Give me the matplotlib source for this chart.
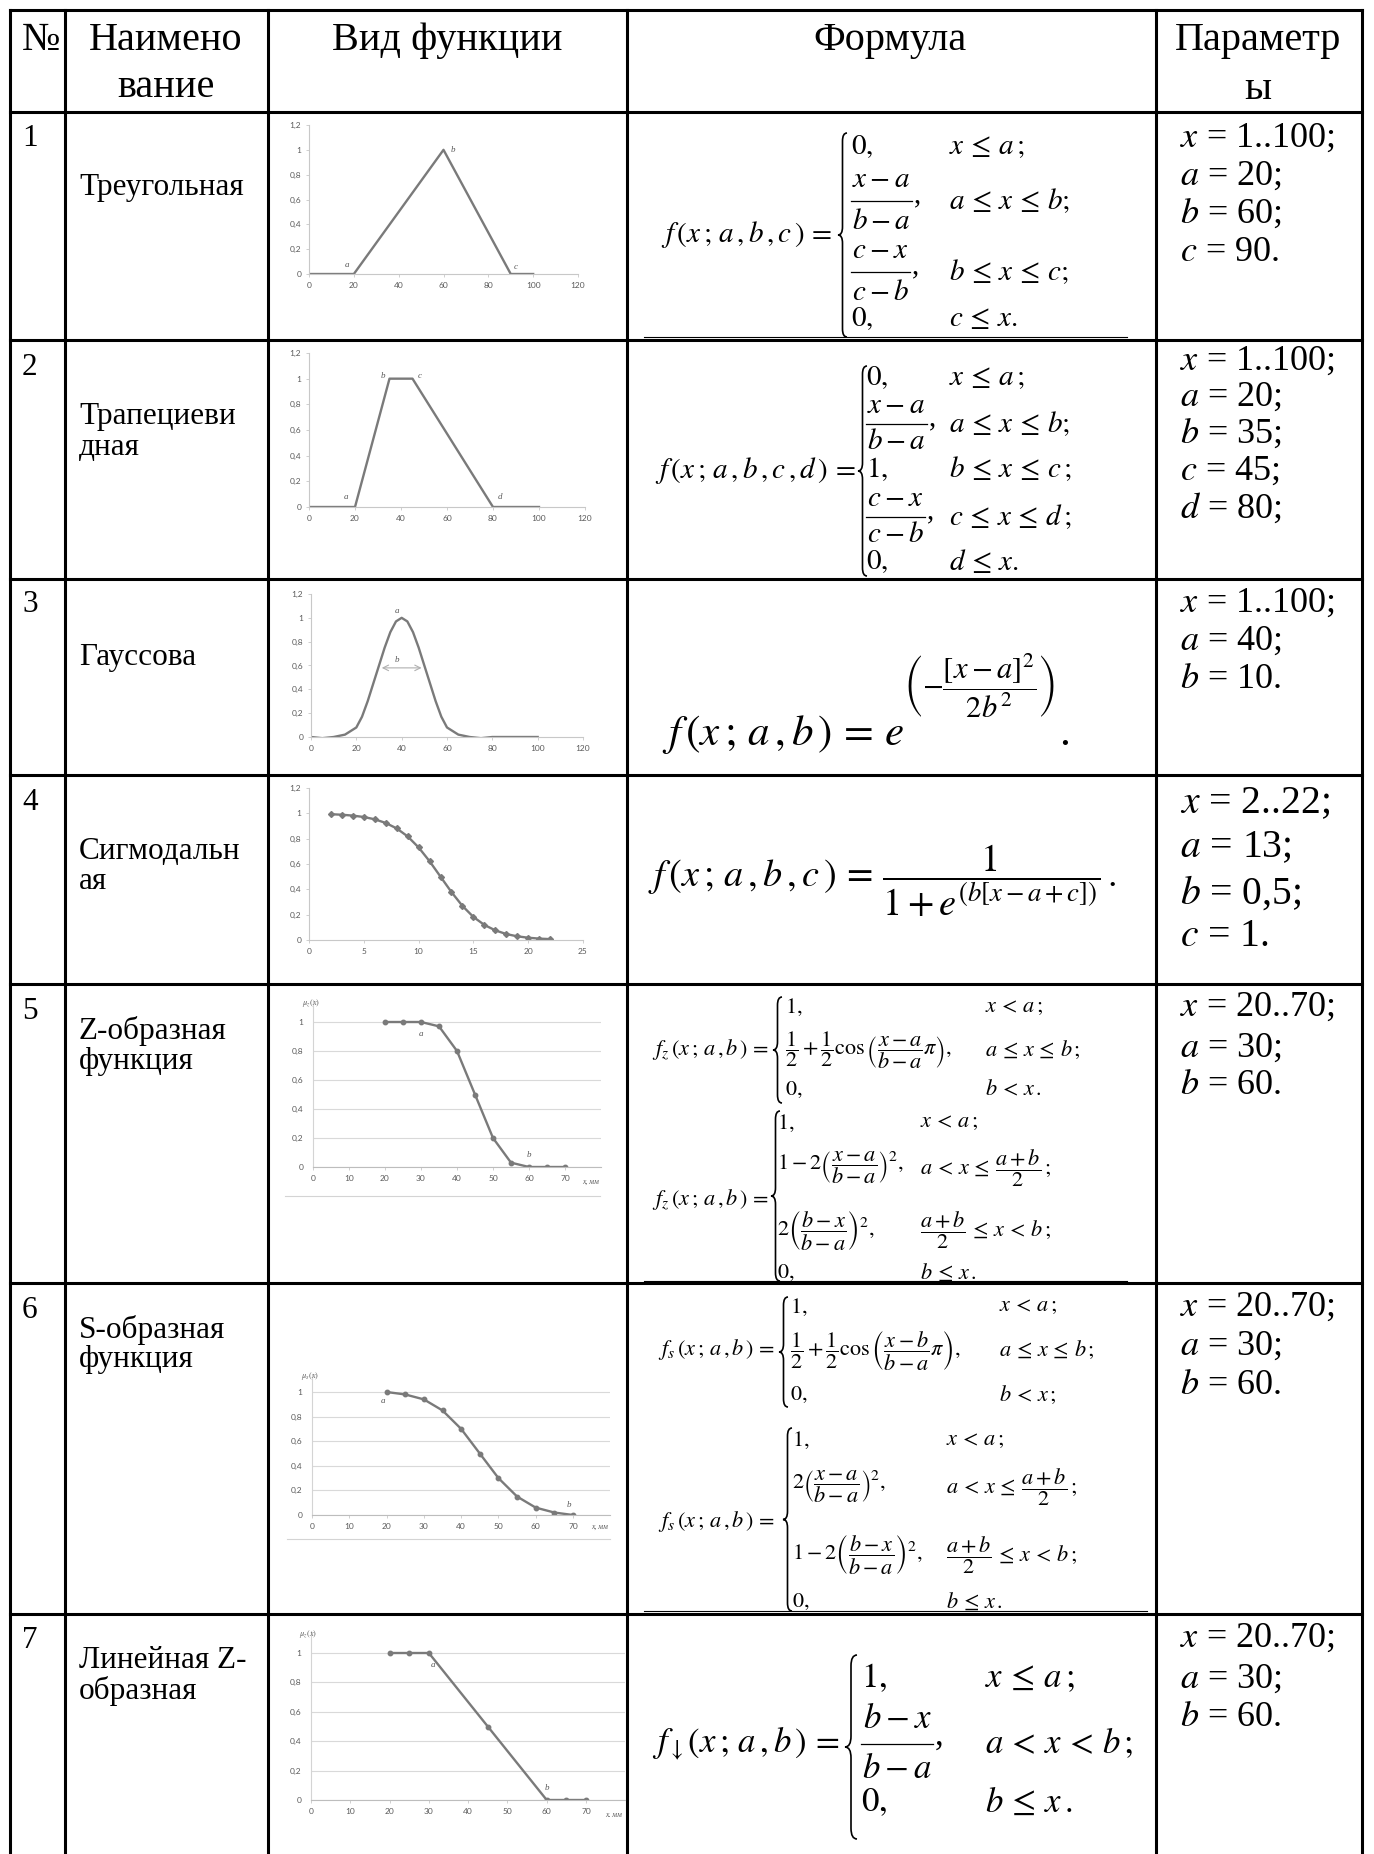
import matplotlib
matplotlib.use('Agg')
import matplotlib.pyplot as plt
import numpy as np
from matplotlib.path import Path
from matplotlib.patches import PathPatch, Rectangle

plt.rcParams['font.family'] = ['Liberation Serif', 'DejaVu Serif']
plt.rcParams['mathtext.fontset'] = 'stix'

W, H = 1374, 1854

# ---- table text ----
headers = ['№', 'Наимено\nвание', 'Вид функции', 'Формула', 'Параметр\nы']
row_nums = ['1', '2', '3', '4', '5', '6', '7']
row_names = [['Треугольная'], ['Трапециеви', 'дная'], ['Гауссова'],
             ['Сигмодальн', 'ая'], ['Z-образная', 'функция'],
             ['S-образная', 'функция'], ['Линейная Z-', 'образная']]
params = [
    ['$x$ = 1..100;', '$a$ = 20;', '$b$ = 60;', '$c$ = 90.'],
    ['$x$ = 1..100;', '$a$ = 20;', '$b$ = 35;', '$c$ = 45;', '$d$ = 80;'],
    ['$x$ = 1..100;', '$a$ = 40;', '$b$ = 10.'],
    ['$x$ = 2..22;', '$a$ = 13;', '$b$ = 0,5;', '$c$ = 1.'],
    ['$x$ = 20..70;', '$a$ = 30;', '$b$ = 60.'],
    ['$x$ = 20..70;', '$a$ = 30;', '$b$ = 60.'],
    ['$x$ = 20..70;', '$a$ = 30;', '$b$ = 60.'],
]

# ---- chart data ----
tri_x = [0, 20, 60, 90, 100]
tri_y = [0, 0, 1, 0, 0]
trap_x = [0, 20, 35, 45, 80, 100]
trap_y = [0, 0, 1, 1, 0, 0]
gauss_x = [0, 5, 10, 15, 20, 22.5, 25, 27.5, 30, 32.5, 35, 37.5, 40, 42.5, 45,
           47.5, 50, 52.5, 55, 57.5, 60, 65, 70, 75, 80, 90, 100]
gauss_y = [0, -0.01, 0, 0.02, 0.08, 0.17, 0.3, 0.45, 0.6, 0.75, 0.88, 0.97, 1.0,
           0.97, 0.88, 0.75, 0.6, 0.45, 0.3, 0.17, 0.08, 0.02, 0, -0.01, 0, 0, 0]
sigm_x = list(range(2, 23))
sigm_y = [0.993, 0.989, 0.982, 0.971, 0.953, 0.924, 0.881, 0.818, 0.731, 0.622,
          0.5, 0.378, 0.269, 0.182, 0.119, 0.076, 0.047, 0.029, 0.018, 0.011, 0.007]
z_x = [20, 25, 30, 35, 40, 45, 50, 55, 60, 65, 70]
z_y = [1, 1, 1, 0.97, 0.8, 0.5, 0.2, 0.03, 0, 0, 0]
s_x = [20, 25, 30, 35, 40, 45, 50, 55, 60, 65, 70]
s_y = [1, 0.98, 0.94, 0.85, 0.7, 0.5, 0.3, 0.15, 0.06, 0.02, 0]
lin_x = [20, 25, 30, 45, 60, 65, 70]
lin_y = [1, 1, 1, 0.5, 0, 0, 0]

fig = plt.figure(figsize=(W / 100, H / 100), dpi=100)
ax0 = fig.add_axes([0, 0, 1, 1])
ax0.set_xlim(0, W)
ax0.set_ylim(H, 0)
ax0.axis('off')
renderer = fig.canvas.get_renderer()


def width_of(t):
    return t.get_window_extent(renderer).width


# table grid
col_x = [10, 65, 268, 627, 1156, 1362]
row_y = [10, 112, 340, 579, 775, 984, 1283, 1614]
for x in col_x:
    ax0.plot([x, x], [row_y[0], H], color='black', lw=2.2, solid_capstyle='projecting')
for y in row_y:
    ax0.plot([col_x[0], col_x[-1]], [y, y], color='black', lw=2.2, solid_capstyle='projecting')
for y, x1 in [(337, 1127), (1281, 1127), (1611, 1147)]:
    ax0.plot([644, x1], [y, y], color='black', lw=0.8)

# header
ax0.text(41, 40, headers[0], ha='center', va='center', fontsize=29)
ax0.text(166, 40, 'Наимено', ha='center', va='center', fontsize=29)
ax0.text(166, 87, 'вание', ha='center', va='center', fontsize=29)
ax0.text(447, 40, headers[2], ha='center', va='center', fontsize=29)
ax0.text(890, 40, headers[3], ha='center', va='center', fontsize=29)
ax0.text(1258, 40, 'Параметр', ha='center', va='center', fontsize=29)
ax0.text(1258, 89, 'ы', ha='center', va='center', fontsize=29)

num_y = [138, 367, 605, 802, 1011, 1310, 1641]
name_y = [[187], [416, 447], [657], [851, 881], [1031, 1061], [1330, 1360], [1661, 1691]]
for n, y in zip(row_nums, num_y):
    ax0.text(22, y, n, ha='left', va='center', fontsize=22.5)
for names, ys in zip(row_names, name_y):
    for t, y in zip(names, ys):
        ax0.text(79, y, t, ha='left', va='center', fontsize=22.5)

param_y = [[138, 176, 214, 252], [361, 397, 434, 471, 508], [603, 641, 680],
           [804, 848, 893, 936], [1007, 1048, 1085], [1307, 1346, 1386],
           [1638, 1679, 1718]]
param_fs = [26, 26, 26, 28.5, 26, 26, 26]
for lines, ys, fs in zip(params, param_y, param_fs):
    for t, y in zip(lines, ys):
        ax0.text(1180, y, t, ha='left', va='center', fontsize=fs)


def m(s):
    # wider spacing around relations, as in the typeset original
    for r in [r'\leq', '<', '=']:
        s = s.replace(r, r'\,' + r + r'\,')
    return s


def brace(x, y0, y1, w=9, lw=1.2):
    ym = (y0 + y1) / 2
    h = w * 0.9
    xm = x + w / 2
    verts = [(x + w, y0), (xm, y0), (xm, y0 + h), (xm, ym - h), (xm, ym), (x, ym),
             (xm, ym), (xm, ym + h), (xm, y1 - h), (xm, y1), (x + w, y1)]
    codes = [Path.MOVETO, Path.CURVE3, Path.CURVE3, Path.LINETO, Path.CURVE3, Path.CURVE3,
             Path.CURVE3, Path.CURVE3, Path.LINETO, Path.CURVE3, Path.CURVE3]
    ax0.add_patch(PathPatch(Path(verts, codes), fc='none', ec='black', lw=lw))


def stacked_frac(xl, y, num, den, fs, gap):
    # fraction typeset as numerator / bar / denominator with a loose gap
    tn = ax0.text(xl, y - gap, num, ha='center', va='center', fontsize=fs)
    td = ax0.text(xl, y + gap, den, ha='center', va='center', fontsize=fs)
    wbar = max(width_of(tn), width_of(td)) + 2
    tn.set_x(xl + wbar / 2)
    td.set_x(xl + wbar / 2)
    ax0.plot([xl, xl + wbar], [y, y], color='black', lw=0.9)
    ax0.text(xl + wbar + 2, y + 1, ',', ha='left', va='baseline', fontsize=fs)


def cases(lhs, lx, ly, bx, by0, by1, rows, ex, cx, fs, w=9, gap=20):
    ax0.text(lx, ly, m(lhs), ha='right', va='center', fontsize=fs)
    brace(bx, by0, by1, w=w)
    for expr, cond, y in rows:
        if isinstance(expr, tuple):
            stacked_frac(ex, y, expr[0], expr[1], fs, gap)
        else:
            ax0.text(ex, y, expr, ha='left', va='center', fontsize=fs)
        ax0.text(cx, y, m(cond), ha='left', va='center', fontsize=fs)


cases(r'$f\,(x\,;\,a\,,b\,,c\,)=$', 832, 234, 838, 133, 337,
      [(r'$0,$', r'$x\leq a\,;$', 147),
       ((r'$x-a$', r'$b-a$'), r'$a\leq x\leq b;$', 201),
       ((r'$c-x$', r'$c-b$'), r'$b\leq x\leq c;$', 272),
       (r'$0,$', r'$c\leq x.$', 319)], 851, 949, 21, gap=21)

cases(r'$f\,(x\,;\,a\,,b\,,c\,,d\,)=$', 856, 470, 858, 366, 576,
      [(r'$0,$', r'$x\leq a\,;$', 378),
       ((r'$x-a$', r'$b-a$'), r'$a\leq x\leq b;$', 424),
       (r'$1,$', r'$b\leq x\leq c\,;$', 469),
       ((r'$c-x$', r'$c-b$'), r'$c\leq x\leq d\,;$', 517),
       (r'$0,$', r'$d\leq x.$', 562)], 866, 949, 21, gap=18)

# Gaussian: base, raised exponent and the closing period as separate pieces
t_base = ax0.text(662, 745, m(r'$f\,(x\,;\,a\,,b\,)=e$'), ha='left', va='baseline', fontsize=31)
xr = 662 + width_of(t_base)
t_exp = ax0.text(xr - 1, 686, r'$\left(-\dfrac{[x-a]^2}{2b^2}\right)$', ha='left', va='center',
                 fontsize=22)
ax0.text(xr + width_of(t_exp) + 4, 745, '.', ha='left', va='baseline', fontsize=31)

ax0.text(648, 881, m(r'$f\,(x\,;\,a\,,b\,,c\,)=\dfrac{1}{1+e^{(b[x-a+c])}}\,.$'),
         ha='left', va='center', fontsize=27.5)

cases(r'$f_z\,(x\,;\,a\,,b\,)=$', 769, 1050, 773, 997, 1103,
      [(r'$1,$', r'$x<a\,;$', 1007),
       (r'$\dfrac{1}{2}+\dfrac{1}{2}\cos\left(\dfrac{x-a}{b-a}\pi\right),$', r'$a\leq x\leq b\,;$', 1050),
       (r'$0,$', r'$b<x\,.$', 1090)], 785, 985, 16)
cases(r'$f_z\,(x\,;\,a\,,b\,)=$', 769, 1200, 771, 1111, 1281,
      [(r'$1,$', r'$x<a\,;$', 1123),
       (r'$1-2\left(\dfrac{x-a}{b-a}\right)^2,$', r'$a<x\leq\dfrac{a+b}{2}\,;$', 1168),
       (r'$2\left(\dfrac{b-x}{b-a}\right)^2,$', r'$\dfrac{a+b}{2}\leq x<b\,;$', 1230),
       (r'$0,$', r'$b\leq x\,.$', 1273)], 777, 920, 16)

cases(r'$f_s\,(x\,;\,a\,,b\,)=$', 775, 1350, 779, 1297, 1407,
      [(r'$1,$', r'$x<a\,;$', 1307),
       (r'$\dfrac{1}{2}+\dfrac{1}{2}\cos\left(\dfrac{x-b}{b-a}\pi\right),$', r'$a\leq x\leq b\,;$', 1350),
       (r'$0,$', r'$b<x\,;$', 1395)], 790, 999, 16)
cases(r'$f_s\,(x\,;\,a\,,b\,)=$', 775, 1522, 783, 1428, 1611,
      [(r'$1,$', r'$x<a\,;$', 1440),
       (r'$2\left(\dfrac{x-a}{b-a}\right)^2,$', r'$a<x\leq\dfrac{a+b}{2}\,;$', 1487),
       (r'$1-2\left(\dfrac{b-x}{b-a}\right)^2,$', r'$\dfrac{a+b}{2}\leq x<b\,;$', 1555),
       (r'$0,$', r'$b\leq x\,.$', 1602)], 792, 946, 16)

cases(r'$f_{\downarrow}(x\,;\,a\,,b\,)=$', 840, 1744, 845, 1655, 1839,
      [(r'$1,$', r'$x\leq a\,;$', 1679),
       ((r'$b-x$', r'$b-a$'), r'$a<x<b\,;$', 1744),
       (r'$0,$', r'$b\leq x\,.$', 1803)], 861, 985, 25, w=12, gap=25)

# ---- small charts ----
LINE = '#7a7a7a'
TXT = '#5a5a5a'
TICKFONT = ['Lato', 'DejaVu Sans']


def lbl(v):
    return ('%g' % round(v, 1)).replace('.', ',')


def chart(left, right, y0_px, ytop_px, xmax, ymax):
    ax = fig.add_axes([left / W, 1 - y0_px / H, (right - left) / W, (y0_px - ytop_px) / H])
    ax.set_facecolor('none')
    ax.set_xlim(0, xmax)
    ax.set_ylim(0, ymax)
    for s in ['top', 'right']:
        ax.spines[s].set_visible(False)
    for s in ['left', 'bottom']:
        ax.spines[s].set_color('#c8c8c8')
        ax.spines[s].set_linewidth(0.8)
    ax.tick_params(labelsize=6, colors='#c8c8c8', labelcolor=TXT, length=2.5, width=0.6, pad=3)
    return ax


def set_ticks(ax, xt, yt):
    ax.set_xticks(xt)
    ax.set_xticklabels([lbl(v) for v in xt], fontfamily=TICKFONT)
    ax.set_yticks(yt)
    ax.set_yticklabels([lbl(v) for v in yt], fontfamily=TICKFONT)


def note(ax, x, y, s):
    ax.text(x, y, s, fontsize=6.5, style='italic', color=TXT, ha='center', va='center', clip_on=False)


yt12 = np.arange(0, 1.21, 0.2)

ax = chart(309, 578, 274, 125, 120, 1.2)
set_ticks(ax, np.arange(0, 121, 20), yt12)
ax.plot(tri_x, tri_y, color=LINE, lw=1.7)
note(ax, 17, 0.07, 'a'); note(ax, 64, 1.0, 'b'); note(ax, 92, 0.06, 'c')

ax = chart(309, 585, 507, 353, 120, 1.2)
set_ticks(ax, np.arange(0, 121, 20), yt12)
ax.plot(trap_x, trap_y, color=LINE, lw=1.7)
note(ax, 16, 0.08, 'a'); note(ax, 32, 1.02, 'b'); note(ax, 48, 1.02, 'c'); note(ax, 83, 0.08, 'd')

ax = chart(311, 583, 737, 594, 120, 1.2)
set_ticks(ax, np.arange(0, 121, 20), yt12)
ax.plot(gauss_x, gauss_y, color=LINE, lw=1.7)
ga, gb = 40, 10
ax.annotate('', xy=(ga - gb, 0.58), xytext=(ga + gb, 0.58),
            arrowprops=dict(arrowstyle='<->', color='#b0b0b0', lw=0.8))
note(ax, 38, 1.06, 'a'); note(ax, 38, 0.65, 'b')

ax = chart(309, 583, 940, 788, 25, 1.2)
set_ticks(ax, np.arange(0, 26, 5), yt12)
ax.plot(sigm_x, sigm_y, color=LINE, lw=1.7, marker='D', ms=3)


def grid_chart(left, x70, y0_px, y1_px, xs, ys, mu, marks):
    unit_x = (x70 - left) / 70
    right = left + 80 * unit_x
    unit_y = y0_px - y1_px
    top = y0_px - 1.15 * unit_y
    ax = chart(left, right, y0_px, top, 80, 1.15)
    ax.spines['left'].set_color('#d4d4d4')
    ax.spines['bottom'].set_color('#bdbdbd')
    set_ticks(ax, np.arange(0, 71, 10), np.arange(0, 1.01, 0.2))
    ax.tick_params(axis='y', length=0, pad=7)
    ax.grid(axis='y', color='#d9d9d9', lw=0.8)
    ax.set_axisbelow(True)
    ax.plot(xs, ys, color=LINE, lw=1.7, marker='o', ms=3.2)
    ax.text(-3, 1.13, mu, fontsize=6, color=TXT, ha='left', va='center', clip_on=False)
    ax.text(77, -0.1, 'x, мм', fontsize=5.5, color=TXT, style='italic', ha='center', va='center',
            clip_on=False)
    for x, y, s in marks:
        note(ax, x, y, s)
    return ax


grid_chart(313, 565, 1167, 1022, z_x, z_y, r'$\mu_z(x)$', [(30, 0.92, 'a'), (60, 0.08, 'b')])
grid_chart(312, 573, 1515, 1392, s_x, s_y, r'$\mu_s(x)$', [(19, 0.93, 'a'), (69, 0.08, 'b')])
grid_chart(311, 586, 1800, 1653, lin_x, lin_y, r'$\mu_z(x)$', [(31, 0.92, 'a'), (60, 0.08, 'b')])

# chart frame lines below charts 5 and 6
ax0.plot([285, 600], [1196, 1196], color='#d4d4d4', lw=0.8)
ax0.plot([287, 610], [1539, 1539], color='#d4d4d4', lw=0.8)

# bottom of chart 7 is cut off in the source
fig.add_artist(Rectangle((272 / W, 0), (622 - 272) / W, (H - 1817) / H,
                         transform=fig.transFigure, facecolor='white', edgecolor='none', zorder=10))

fig.savefig('out.png', dpi=100)
